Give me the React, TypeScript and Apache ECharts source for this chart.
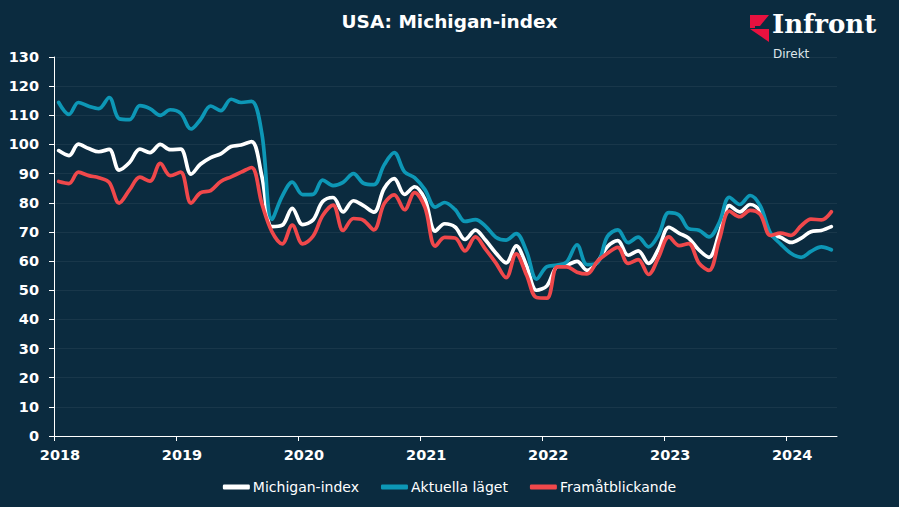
import React, { useEffect, useRef } from "react";
import * as echarts from "echarts";

// Monthly observations as they are placed on the chart (first point plotted mid-Jan 2018)
const START_YEAR = 2018;
const START_MONTH = 1;
const POINT_DAY = 15;

const michiganIndex = [
  97.9, 96.2, 100.1, 98.6, 97.5, 98.3,
  91.2, 93.8, 98.4, 97.2, 100.0, 98.2, 98.4, 89.8, 93.2, 95.5, 96.8, 99.3,
  99.8, 101.0, 89.1, 71.8, 72.3, 78.1, 72.5, 74.1, 80.4, 81.8, 76.9, 80.7,
  79.0, 76.8, 84.9, 88.3, 82.9, 85.5, 81.2, 70.3, 72.8, 71.7, 67.4, 70.6,
  67.2, 62.8, 59.4, 65.2, 58.4, 50.0, 51.5, 58.2, 58.6, 59.9, 56.8, 59.7,
  64.9, 67.0, 62.0, 63.5, 59.2, 64.2, 71.6, 69.5, 67.9, 63.8, 61.3, 69.7,
  79.0, 76.9, 79.4, 77.2, 69.1, 68.2, 66.4, 67.9, 70.1, 70.5, 71.8,
];

const aktuellaLaget = [
  114.4, 110.3, 114.4, 113.1, 112.3, 116.1,
  108.8, 108.5, 113.3, 112.3, 110.0, 111.9, 110.7, 105.3, 108.5, 113.2, 111.6, 115.5,
  114.4, 114.8, 103.7, 74.3, 82.3, 87.1, 82.8, 82.9, 87.8, 85.9, 87.0, 90.0,
  86.7, 86.2, 93.0, 97.2, 90.6, 88.6, 84.5, 78.5, 80.1, 77.7, 73.6, 74.2,
  72.0, 68.2, 67.2, 69.4, 63.3, 53.8, 58.1, 58.6, 59.7, 65.6, 58.8, 59.4,
  68.4, 70.7, 66.3, 68.2, 64.9, 69.0, 76.6, 75.7, 71.1, 70.6, 68.3, 73.3,
  81.9, 79.4, 82.5, 79.0, 69.6, 65.9, 62.7, 61.3, 63.3, 64.9, 63.9,
];

const framatblickande = [
  87.3, 86.6, 90.5, 89.3, 88.6, 87.0,
  79.9, 84.4, 88.8, 87.4, 93.5, 89.3, 90.5, 79.9, 83.4, 84.2, 87.3, 88.9,
  90.5, 92.1, 79.7, 70.1, 65.9, 72.3, 65.9, 68.5, 75.6, 79.2, 70.5, 74.6,
  74.0, 70.7, 79.7, 82.7, 77.6, 83.5, 78.4, 65.1, 68.1, 67.9, 63.5, 68.3,
  64.1, 59.4, 54.3, 62.5, 55.2, 47.5, 47.3, 58.0, 58.0, 56.2, 55.6, 59.9,
  62.7, 64.7, 59.2, 60.5, 55.4, 61.3, 68.3, 65.3, 66.0, 59.3, 56.8, 67.4,
  77.1, 75.2, 77.4, 76.0, 68.8, 69.6, 68.8, 72.1, 74.4, 74.1, 76.9,
];

const seriesNames = ["Michigan-index", "Aktuella läget", "Framåtblickande"];
const seriesColors = ["#ffffff", "#0d97b6", "#f0484b"];
const yTicks = { min: 0, max: 130, interval: 10 };
const xRange = { min: "2018-01-01", max: "2024-06-01" };

function monthDates(n: number): string[] {
  const out: string[] = [];
  for (let i = 0; i < n; i++) {
    const m0 = START_MONTH - 1 + i;
    const y = START_YEAR + Math.floor(m0 / 12);
    const m = (m0 % 12) + 1;
    out.push(`${y}-${String(m).padStart(2, "0")}-${POINT_DAY}`);
  }
  return out;
}

const BG = "#0b2b3f";

export default function App() {
  const ref = useRef<HTMLDivElement>(null);
  useEffect(() => {
    if (!ref.current) return;
    const chart = echarts.init(ref.current, undefined, { renderer: "svg" });
    const dates = monthDates(michiganIndex.length);
    const allData = [michiganIndex, aktuellaLaget, framatblickande];
    const option: any = {
      animation: false,
      backgroundColor: BG,
      title: {
        text: "USA: Michigan-index",
        left: "center",
        top: 7,
        textStyle: {
          color: "#ffffff",
          fontFamily: "DejaVu Sans",
          fontWeight: "bold",
          fontSize: 18.5,
        },
      },
      legend: {
        data: seriesNames,
        left: "center",
        top: 475,
        icon: "roundRect",
        itemWidth: 27,
        itemHeight: 5,
        itemGap: 22,
        textStyle: { color: "#ffffff", fontFamily: "DejaVu Sans", fontSize: 14, padding: [0, 0, 0, -2] },
      },
      grid: { left: 54, right: 62, top: 57, bottom: 71, containLabel: false },
      xAxis: {
        type: "time",
        min: xRange.min,
        max: xRange.max,
        minInterval: 365 * 24 * 3600 * 1000,
        axisLine: { show: true, lineStyle: { color: "#ffffff", width: 1 } },
        axisTick: { show: true, length: 5, lineStyle: { color: "#ffffff" } },
        splitLine: { show: false },
        axisLabel: {
          formatter: "{yyyy}",
          color: "#ffffff",
          fontFamily: "DejaVu Sans",
          fontWeight: "bold",
          fontSize: 14.5,
          margin: 11,
          padding: [0, 0, 0, 12],
          showMinLabel: true,
        },
      },
      yAxis: {
        type: "value",
        min: yTicks.min,
        max: yTicks.max,
        interval: yTicks.interval,
        axisLine: { show: true, lineStyle: { color: "#ffffff", width: 1 } },
        axisTick: { show: true, length: 5, lineStyle: { color: "#ffffff" } },
        splitLine: { show: true, lineStyle: { color: "rgba(255,255,255,0.06)", width: 1 } },
        axisLabel: {
          color: "#ffffff",
          fontFamily: "DejaVu Sans",
          fontWeight: "bold",
          fontSize: 14.5,
          margin: 15,
        },
      },
      series: seriesNames.map((name, k) => ({
        name,
        type: "line",
        smooth: 0.35,
        symbol: "none",
        color: seriesColors[k],
        lineStyle: { width: 3.7, color: seriesColors[k], cap: "round", join: "round" },
        data: allData[k].map((v, i) => [dates[i], v]),
      })),
      graphic: [
        {
          type: "polygon",
          shape: { points: [[750, 15], [769, 15], [760, 26], [755, 26], [755, 28], [750, 28]] },
          style: { fill: "#e8113f" },
        },
        {
          type: "polygon",
          shape: { points: [[750, 29], [769, 29], [769, 42]] },
          style: { fill: "#e8113f" },
        },
        {
          type: "text",
          left: 772,
          top: 11,
          style: {
            text: "Infront",
            fill: "#ffffff",
            font: "bold 26px 'DejaVu Serif'",
          },
        },
        {
          type: "text",
          left: 773,
          top: 48,
          style: {
            text: "Direkt",
            fill: "#dfe6ea",
            font: "12px 'DejaVu Sans'",
          },
        },
      ],
    };
    chart.setOption(option);
    return () => chart.dispose();
  }, []);
  return (
    <div
      ref={ref}
      style={{ position: "fixed", left: 0, top: 0, width: 899, height: 507, background: BG }}
    />
  );
}
